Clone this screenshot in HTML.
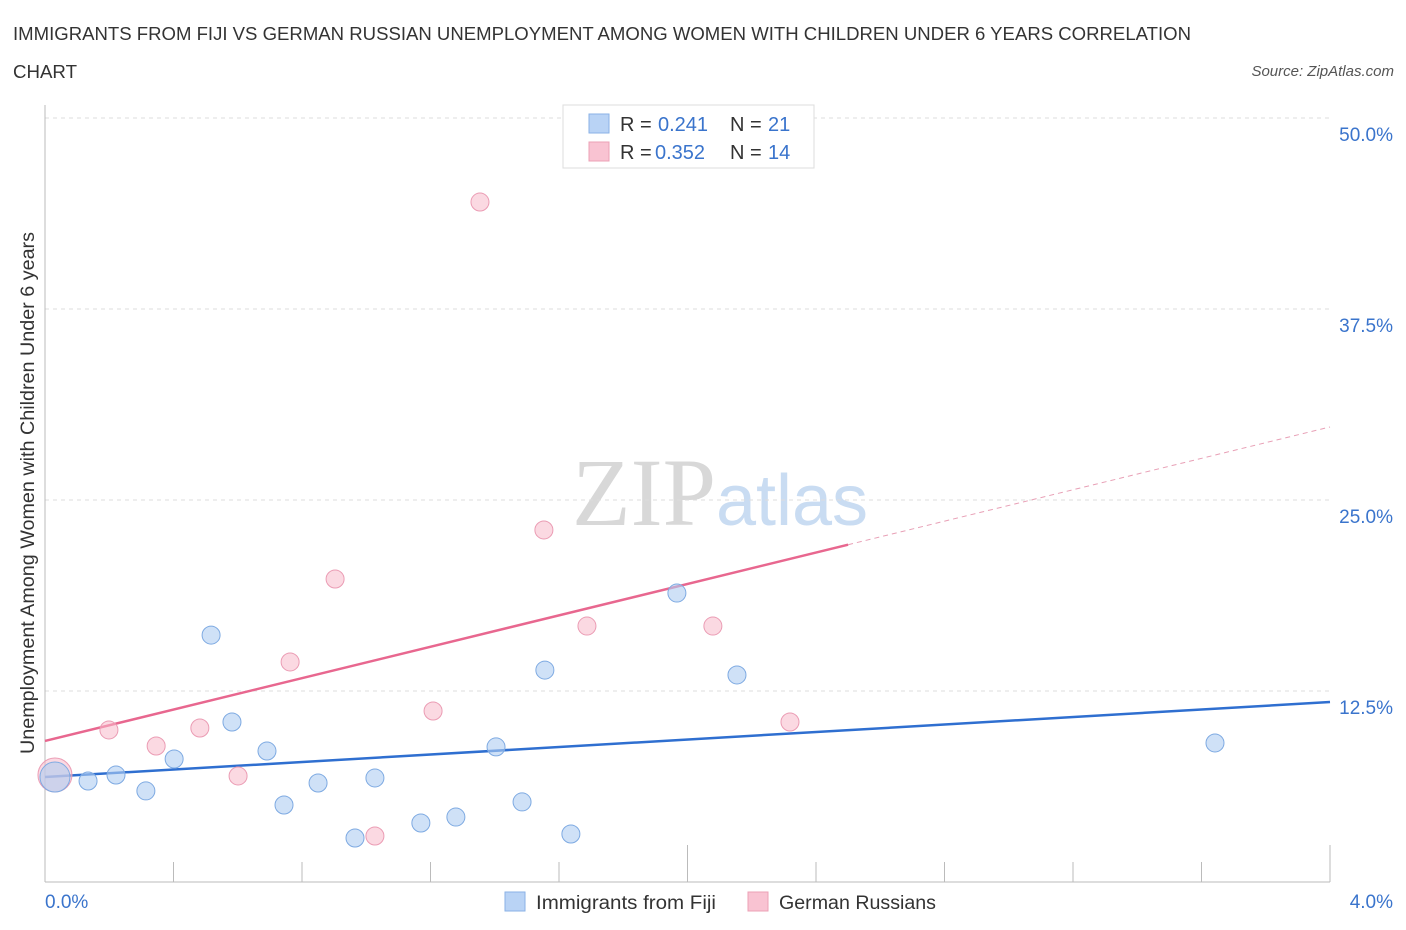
<!DOCTYPE html>
<html><head><meta charset="utf-8"><style>
body{margin:0;background:#fff;}
svg{display:block;font-family:"Liberation Sans",sans-serif;}
</style></head><body>
<svg id="chart" width="1406" height="930" viewBox="0 0 1406 930" xmlns="http://www.w3.org/2000/svg">
<text x="13" y="40" font-size="18" fill="#333" textLength="1178" lengthAdjust="spacingAndGlyphs">IMMIGRANTS FROM FIJI VS GERMAN RUSSIAN UNEMPLOYMENT AMONG WOMEN WITH CHILDREN UNDER 6 YEARS CORRELATION</text>
<text x="13" y="78" font-size="18" fill="#333" textLength="64" lengthAdjust="spacingAndGlyphs">CHART</text>
<text x="1394" y="76" font-size="15" fill="#555" font-style="italic" text-anchor="end">Source: ZipAtlas.com</text>
<text x="720" y="525" font-size="96" text-anchor="middle" font-family="Liberation Serif,serif"><tspan fill="#d8d8d8">ZIP</tspan><tspan fill="#c9dcf2" font-family="Liberation Sans,sans-serif" font-size="72">atlas</tspan></text>
<g id="grid"></g>
<g id="axes"></g>
<text transform="translate(34,493) rotate(-90)" font-size="19" fill="#333" text-anchor="middle" textLength="522" lengthAdjust="spacingAndGlyphs">Unemployment Among Women with Children Under 6 years</text>
<g id="trends"></g>
<g id="points"></g>
<g>
<rect x="563" y="105" width="251" height="63" fill="#fff" stroke="#ddd"/>
<rect x="589" y="114" width="20" height="19" fill="#b9d3f5" stroke="#8ab2e6"/>
<text x="620" y="131" font-size="20" fill="#333">R = </text><text x="658" y="131" font-size="20" fill="#3a74cc">0.241</text>
<text x="730" y="131" font-size="20" fill="#333">N = </text><text x="768" y="131" font-size="20" fill="#3a74cc">21</text>
<rect x="589" y="142" width="20" height="19" fill="#f9c3d2" stroke="#eca0b6"/>
<text x="620" y="159" font-size="20" fill="#333">R = </text><text x="655" y="159" font-size="20" fill="#3a74cc">0.352</text>
<text x="730" y="159" font-size="20" fill="#333">N = </text><text x="768" y="159" font-size="20" fill="#3a74cc">14</text>
</g>
<g>
<rect x="505" y="892" width="20" height="19" fill="#b9d3f5" stroke="#8ab2e6"/>
<text x="536" y="909" font-size="19" fill="#333" textLength="180" lengthAdjust="spacingAndGlyphs">Immigrants from Fiji</text>
<rect x="748" y="892" width="20" height="19" fill="#f9c3d2" stroke="#eca0b6"/>
<text x="779" y="909" font-size="19" fill="#333" textLength="157" lengthAdjust="spacingAndGlyphs">German Russians</text>
</g>
</svg>
<script>
const blueX=[0.031,0.134,0.221,0.314,0.402,0.517,0.582,0.691,0.744,0.850,0.965,1.027,1.170,1.279,1.404,1.485,1.556,1.637,1.967,2.154,3.642];
const blueY=[6.87,6.61,7.0,5.96,8.05,16.16,10.47,8.57,5.04,6.48,2.88,6.81,3.86,4.25,8.84,5.24,13.87,3.14,18.91,13.55,9.10];
const pinkX=[0.031,0.199,0.346,0.482,0.601,0.763,0.903,1.027,1.208,1.354,1.553,1.687,2.079,2.319];
const pinkY=[7.0,9.95,8.9,10.08,6.94,14.40,19.83,3.01,11.19,44.50,23.04,16.75,16.75,10.47];
const blueTrend=[6.87,11.78];
const pinkTrend=[9.23,29.78];
const yTicks=[12.5,25,37.5,50];
const yTickLabels=["12.5%","25.0%","37.5%","50.0%"];
const xTickLabels=["0.0%","4.0%"];
const NS="http://www.w3.org/2000/svg";
const X=v=>45+v/4*1285, Y=v=>882-v*15.28;
function mk(p,t,a){const e=document.createElementNS(NS,t);for(const k in a)e.setAttribute(k,a[k]);document.getElementById(p).appendChild(e);return e;}
yTicks.forEach((t,i)=>{
 const l=mk('grid','line',{x1:45,x2:1330,y1:Y(t),y2:Y(t),stroke:'#ddd','stroke-dasharray':'4,4'});
 
 
 const tx=mk('grid','text',{x:1393,y:Y(t)+23,'font-size':19,fill:'#3a74cc','text-anchor':'end'});
 tx.textContent=yTickLabels[i];
 
 
});
mk('axes','line',{x1:45,x2:45,y1:105,y2:882,stroke:'#bbb'});
mk('axes','line',{x1:45,x2:1330,y1:882,y2:882,stroke:'#bbb'});
for(let i=0;i<=10;i++){const v=i*0.4;const h=(i==5||i==10)?37:20;
 const t=mk('axes','line',{x1:X(v),x2:X(v),y1:882-h,y2:882,stroke:'#bbb'});
 
 }
const xl0=mk('axes','text',{x:45,y:908,'font-size':19,fill:'#3a74cc'});xl0.textContent=xTickLabels[0];


const xl1=mk('axes','text',{x:1393,y:908,'font-size':19,fill:'#3a74cc','text-anchor':'end'});xl1.textContent=xTickLabels[1];


const bt=mk('trends','line',{x1:X(0),y1:Y(blueTrend[0]),x2:X(4),y2:Y(blueTrend[1]),stroke:'#2f6fd0','stroke-width':2.5});


const pm=v=>pinkTrend[0]+(pinkTrend[1]-pinkTrend[0])*v/4;
const pt=mk('trends','line',{x1:X(0),y1:Y(pm(0)),x2:X(2.5),y2:Y(pm(2.5)),stroke:'#e8678f','stroke-width':2.5});


const pd=mk('trends','line',{x1:X(2.5),y1:Y(pm(2.5)),x2:X(4),y2:Y(pm(4)),stroke:'#e8a0b6','stroke-width':1,'stroke-dasharray':'5,4'});


pinkX.forEach((x,i)=>{const c=mk('points','circle',{cx:X(x),cy:Y(pinkY[i]),r:i==0?17:9,fill:'rgba(248,185,203,0.55)',stroke:'#eb9cb4','stroke-width':1});
 
 });
blueX.forEach((x,i)=>{const c=mk('points','circle',{cx:X(x),cy:Y(blueY[i]),r:i==0?15:9,fill:'rgba(175,205,242,0.6)',stroke:'#7eaae2','stroke-width':1});
 
 });
</script>
</body></html>
